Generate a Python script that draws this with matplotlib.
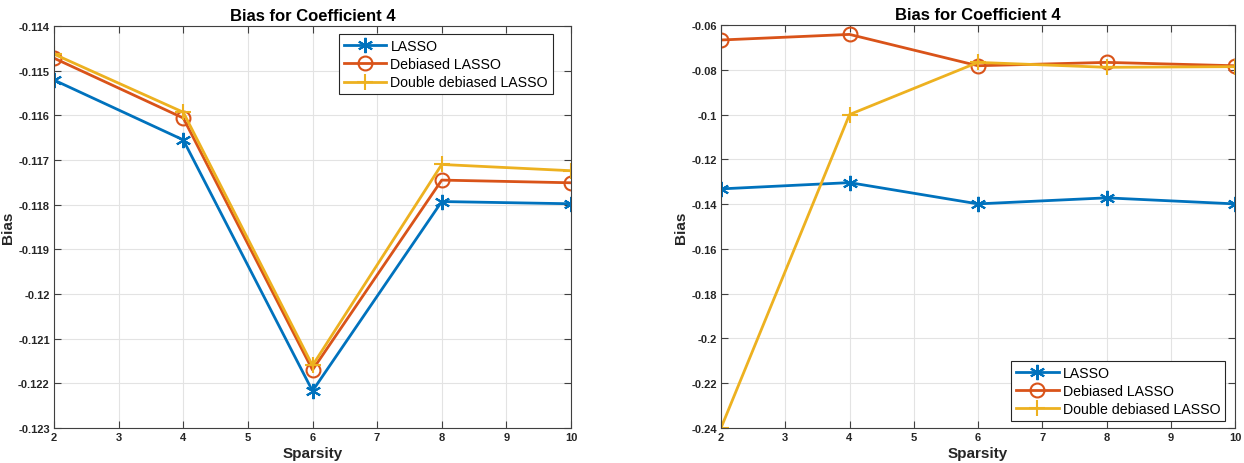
import matplotlib
matplotlib.use("Agg")
import matplotlib.pyplot as plt
from matplotlib.ticker import FuncFormatter, MultipleLocator

plt.rcParams['font.family'] = ['Liberation Sans', 'DejaVu Sans']

sparsity = [2, 4, 6, 8, 10]

# Panel 1
lasso_1 = [-0.11521, -0.11655, -0.12217, -0.11793, -0.11798]
debiased_1 = [-0.11472, -0.11606, -0.12170, -0.11745, -0.11751]
double_1 = [-0.11463, -0.11593, -0.12160, -0.11710, -0.11724]

# Panel 2
lasso_2 = [-0.1332, -0.1304, -0.1399, -0.1372, -0.1399]
debiased_2 = [-0.0667, -0.0642, -0.0782, -0.0767, -0.0782]
double_2 = [-0.2400, -0.1000, -0.0767, -0.0789, -0.0786]

labels = ['LASSO', 'Debiased LASSO', 'Double debiased LASSO']
colors = ['#0072BD', '#D95319', '#EDB120']
# asterisk, open circle, plus
markers = [(6, 2, 0), 'o', '+']
msizes = [11, 10, 11]

W, H = 1244, 464
fig = plt.figure(figsize=(W / 100, H / 100), dpi=100)
ax1 = fig.add_axes([54 / W, 1 - 429 / H, 517 / W, 402 / H])
ax2 = fig.add_axes([721 / W, 1 - 429 / H, 514 / W, 403 / H])

fmt = FuncFormatter(lambda v, p: ('%g' % round(v, 6)))


def draw(ax, series, ylim, ystep, legend_loc, anchor):
    for ys, lab, c, m, ms in zip(series, labels, colors, markers, msizes):
        ax.plot(sparsity, ys, color=c, marker=m, label=lab, linewidth=2,
                markersize=ms, markeredgewidth=1.5, markerfacecolor='none')
    ax.set_xlim(2, 10)
    ax.set_ylim(*ylim)
    ax.xaxis.set_major_locator(MultipleLocator(1))
    ax.yaxis.set_major_locator(MultipleLocator(ystep))
    ax.yaxis.set_major_formatter(fmt)
    ax.grid(True, color='#e3e3e3', linewidth=0.8)
    ax.set_axisbelow(True)
    ax.tick_params(direction='in', top=True, right=True, length=5, pad=3,
                   labelsize=8, color='#404040', labelcolor='#262626')
    for t in ax.get_xticklabels() + ax.get_yticklabels():
        t.set_fontweight('bold')
    for s in ax.spines.values():
        s.set_color('#404040')
        s.set_linewidth(0.8)
    ax.set_title('Bias for Coefficient 4', fontsize=12, fontweight='bold', pad=4)
    ax.set_xlabel('Sparsity', fontsize=11, fontweight='bold', color='#262626', labelpad=3)
    ax.set_ylabel('Bias', fontsize=11, fontweight='bold', color='#262626', labelpad=2)
    leg = ax.legend(loc=legend_loc, bbox_to_anchor=anchor, fontsize=10.2,
                    fancybox=False, framealpha=1, edgecolor='#262626',
                    handlelength=3.0, borderpad=0.35, labelspacing=0.3,
                    handletextpad=0.3, borderaxespad=0.0)
    leg.get_frame().set_linewidth(0.8)


draw(ax1, [lasso_1, debiased_1, double_1], (-0.123, -0.114), 0.001,
     'upper right', (0.965, 0.980))
draw(ax2, [lasso_2, debiased_2, double_2], (-0.24, -0.06), 0.02,
     'lower right', (0.981, 0.017))

fig.savefig('out.png', dpi=100)
